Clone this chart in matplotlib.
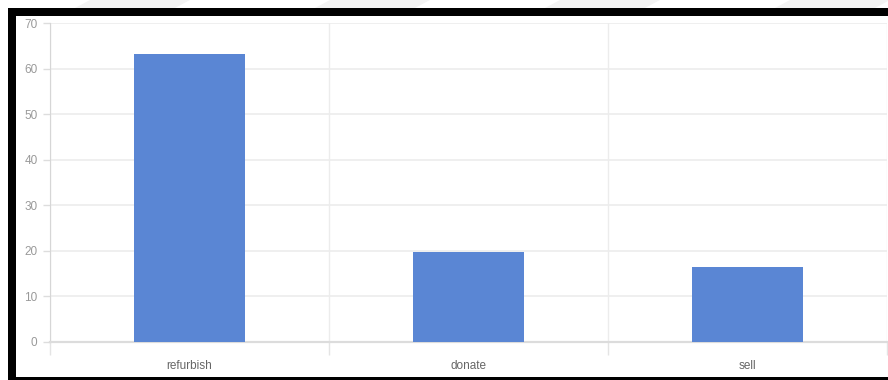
import matplotlib
matplotlib.use('Agg')
import matplotlib.pyplot as plt
from matplotlib.patches import Rectangle, Polygon

plt.rcParams['font.family'] = ['Liberation Sans', 'DejaVu Sans']

# data
categories = ['refurbish', 'donate', 'sell']
values = [63.1, 19.8, 16.5]
y_ticks = [0, 10, 20, 30, 40, 50, 60, 70]

W, H = 888, 380
fig = plt.figure(figsize=(W / 100, H / 100), dpi=100)
fig.patch.set_facecolor('white')


def px(x0, y0, x1, y1):
    # pixel box (top-left origin) -> figure-fraction rectangle args
    return (x0 / W, 1 - y1 / H), (x1 - x0) / W, (y1 - y0) / H


# faint diagonal stripes above the frame (screenshot leftovers)
for sx in [90, 330, 560, 790]:
    pts = [(sx, 0), (sx + 100, 0), (sx + 85, 8), (sx - 15, 8)]
    fig.add_artist(Polygon([(x / W, 1 - y / H) for x, y in pts], closed=True,
                           transform=fig.transFigure, facecolor='#f3f3f3',
                           edgecolor='none', zorder=0))

# black frame
xy, w, h = px(8, 8, 900, 380)
fig.add_artist(Rectangle(xy, w, h, transform=fig.transFigure,
                         facecolor='black', edgecolor='none', zorder=0))
xy, w, h = px(16, 16, 900, 377)
fig.add_artist(Rectangle(xy, w, h, transform=fig.transFigure,
                         facecolor='white', edgecolor='none', zorder=0))

ax = fig.add_axes([50 / W, 38 / H, 837 / W, 319 / H])
ax.set_facecolor('none')

x = list(range(len(categories)))
ax.bar(x, values, width=0.4, color='#5a86d4', zorder=3)

ax.set_xlim(-0.5, len(categories) - 0.5)
ax.set_ylim(0, 70)
ax.set_yticks(y_ticks)
ax.set_yticklabels([str(v) for v in y_ticks])

# category labels in the middle, ticks/gridlines on the band edges
ax.set_xticks(x)
ax.set_xticklabels(categories)
ax.set_xticks([i - 0.5 for i in range(len(categories) + 1)], minor=True)
ax.tick_params(axis='x', which='major', length=0, pad=13, labelsize=8.5, labelcolor='#666666')
ax.tick_params(axis='x', which='minor', length=9, width=1, color='#e4e4e4')
ax.tick_params(axis='y', length=5, width=1, color='#dddddd', pad=4,
               labelsize=8.5, labelcolor='#999999')

ax.grid(True, axis='y', color='#ececec', linewidth=1.2, zorder=0)
ax.grid(True, axis='x', which='minor', color='#ececec', linewidth=1, zorder=0)
ax.grid(False, axis='x', which='major')

for s in ['top', 'right']:
    ax.spines[s].set_visible(False)
ax.spines['left'].set_color('#d6d6d6')
ax.spines['left'].set_bounds(0, 70)
ax.spines['bottom'].set_color('#dcdcdc')
ax.spines['bottom'].set_linewidth(1.6)

fig.savefig('out.png', dpi=100)
